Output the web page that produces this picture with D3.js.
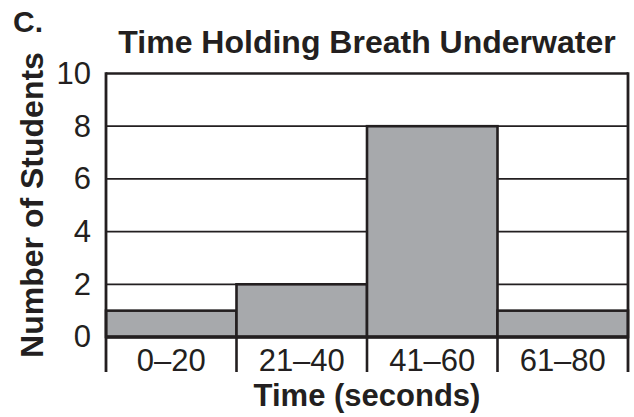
<!DOCTYPE html>
<html>
<head>
<meta charset="utf-8">
<script src="https://cdn.jsdelivr.net/npm/d3@7"></script>
<style>
  body { margin: 0; background: #fff; }
  svg { display: block; font-family: "Liberation Sans", Arial, Helvetica, sans-serif; }
</style>
</head>
<body>
<svg id="chart" width="634" height="417"></svg>
<script>
const categories = ["0–20", "21–40", "41–60", "61–80"];
const counts = [1, 2, 8, 1];
const yTicks = [0, 2, 4, 6, 8, 10];

const ink = "#231f20";
const barFill = "#a7a9ac";

const svg = d3.select("#chart");
const plotLeft = 106, plotRight = 628, plotTop = 73.5, plotBottom = 337;

const x = d3.scaleBand().domain(categories).range([plotLeft, plotRight]).padding(0);
const y = d3.scaleLinear().domain([0, 10]).range([plotBottom, plotTop]);

// gridlines
svg.append("g")
  .selectAll("line")
  .data(yTicks.filter(d => d > 0 && d < 10))
  .join("line")
  .attr("x1", plotLeft).attr("x2", plotRight)
  .attr("y1", d => y(d)).attr("y2", d => y(d))
  .attr("stroke", ink).attr("stroke-width", 1.8);

// bars
svg.append("g")
  .selectAll("rect")
  .data(counts)
  .join("rect")
  .attr("x", (d, i) => x(categories[i]))
  .attr("y", d => y(d))
  .attr("width", x.bandwidth())
  .attr("height", d => y(0) - y(d))
  .attr("fill", barFill)
  .attr("stroke", ink)
  .attr("stroke-width", 2.6);

// frame
svg.append("line").attr("x1", plotLeft).attr("x2", plotRight).attr("y1", plotTop).attr("y2", plotTop)
  .attr("stroke", ink).attr("stroke-width", 2.4);
svg.append("line").attr("x1", plotRight).attr("x2", plotRight).attr("y1", plotTop - 1.2).attr("y2", plotBottom + 35)
  .attr("stroke", ink).attr("stroke-width", 2.8);
svg.append("line").attr("x1", plotLeft).attr("x2", plotLeft).attr("y1", plotTop - 1.2).attr("y2", plotBottom + 35)
  .attr("stroke", ink).attr("stroke-width", 2.8);
svg.append("line").attr("x1", plotLeft).attr("x2", plotRight).attr("y1", plotBottom).attr("y2", plotBottom)
  .attr("stroke", ink).attr("stroke-width", 3.6);

// category dividers below the axis
svg.append("g")
  .selectAll("line")
  .data(categories.slice(1))
  .join("line")
  .attr("x1", d => x(d)).attr("x2", d => x(d))
  .attr("y1", plotBottom).attr("y2", plotBottom + 35)
  .attr("stroke", ink).attr("stroke-width", 2.6);

// category labels
svg.append("g")
  .selectAll("text")
  .data(categories)
  .join("text")
  .attr("x", d => x(d) + x.bandwidth() / 2)
  .attr("y", 371)
  .attr("text-anchor", "middle")
  .attr("font-size", 31)
  .attr("fill", ink)
  .text(d => d);

// y tick labels
const yAxis = svg.append("g")
  .attr("transform", `translate(${plotLeft},0)`)
  .call(d3.axisLeft(y).tickValues(yTicks).tickSize(0).tickPadding(15));
yAxis.select(".domain").remove();
yAxis.selectAll("text")
  .attr("font-size", 31)
  .attr("font-family", "Liberation Sans, Arial, sans-serif")
  .attr("fill", ink);

// titles
svg.append("text").attr("x", 13).attr("y", 32)
  .attr("font-size", 30).attr("font-weight", "bold").attr("fill", ink).text("C.");
svg.append("text").attr("x", 367).attr("y", 53).attr("text-anchor", "middle")
  .attr("font-size", 32).attr("font-weight", "bold").attr("fill", ink)
  .text("Time Holding Breath Underwater");
svg.append("text").attr("x", 367).attr("y", 406).attr("text-anchor", "middle")
  .attr("font-size", 31).attr("font-weight", "bold").attr("fill", ink)
  .text("Time (seconds)");
svg.append("text")
  .attr("transform", "translate(43,205) rotate(-90)")
  .attr("text-anchor", "middle")
  .attr("font-size", 32).attr("font-weight", "bold").attr("fill", ink)
  .text("Number of Students");
</script>
</body>
</html>
